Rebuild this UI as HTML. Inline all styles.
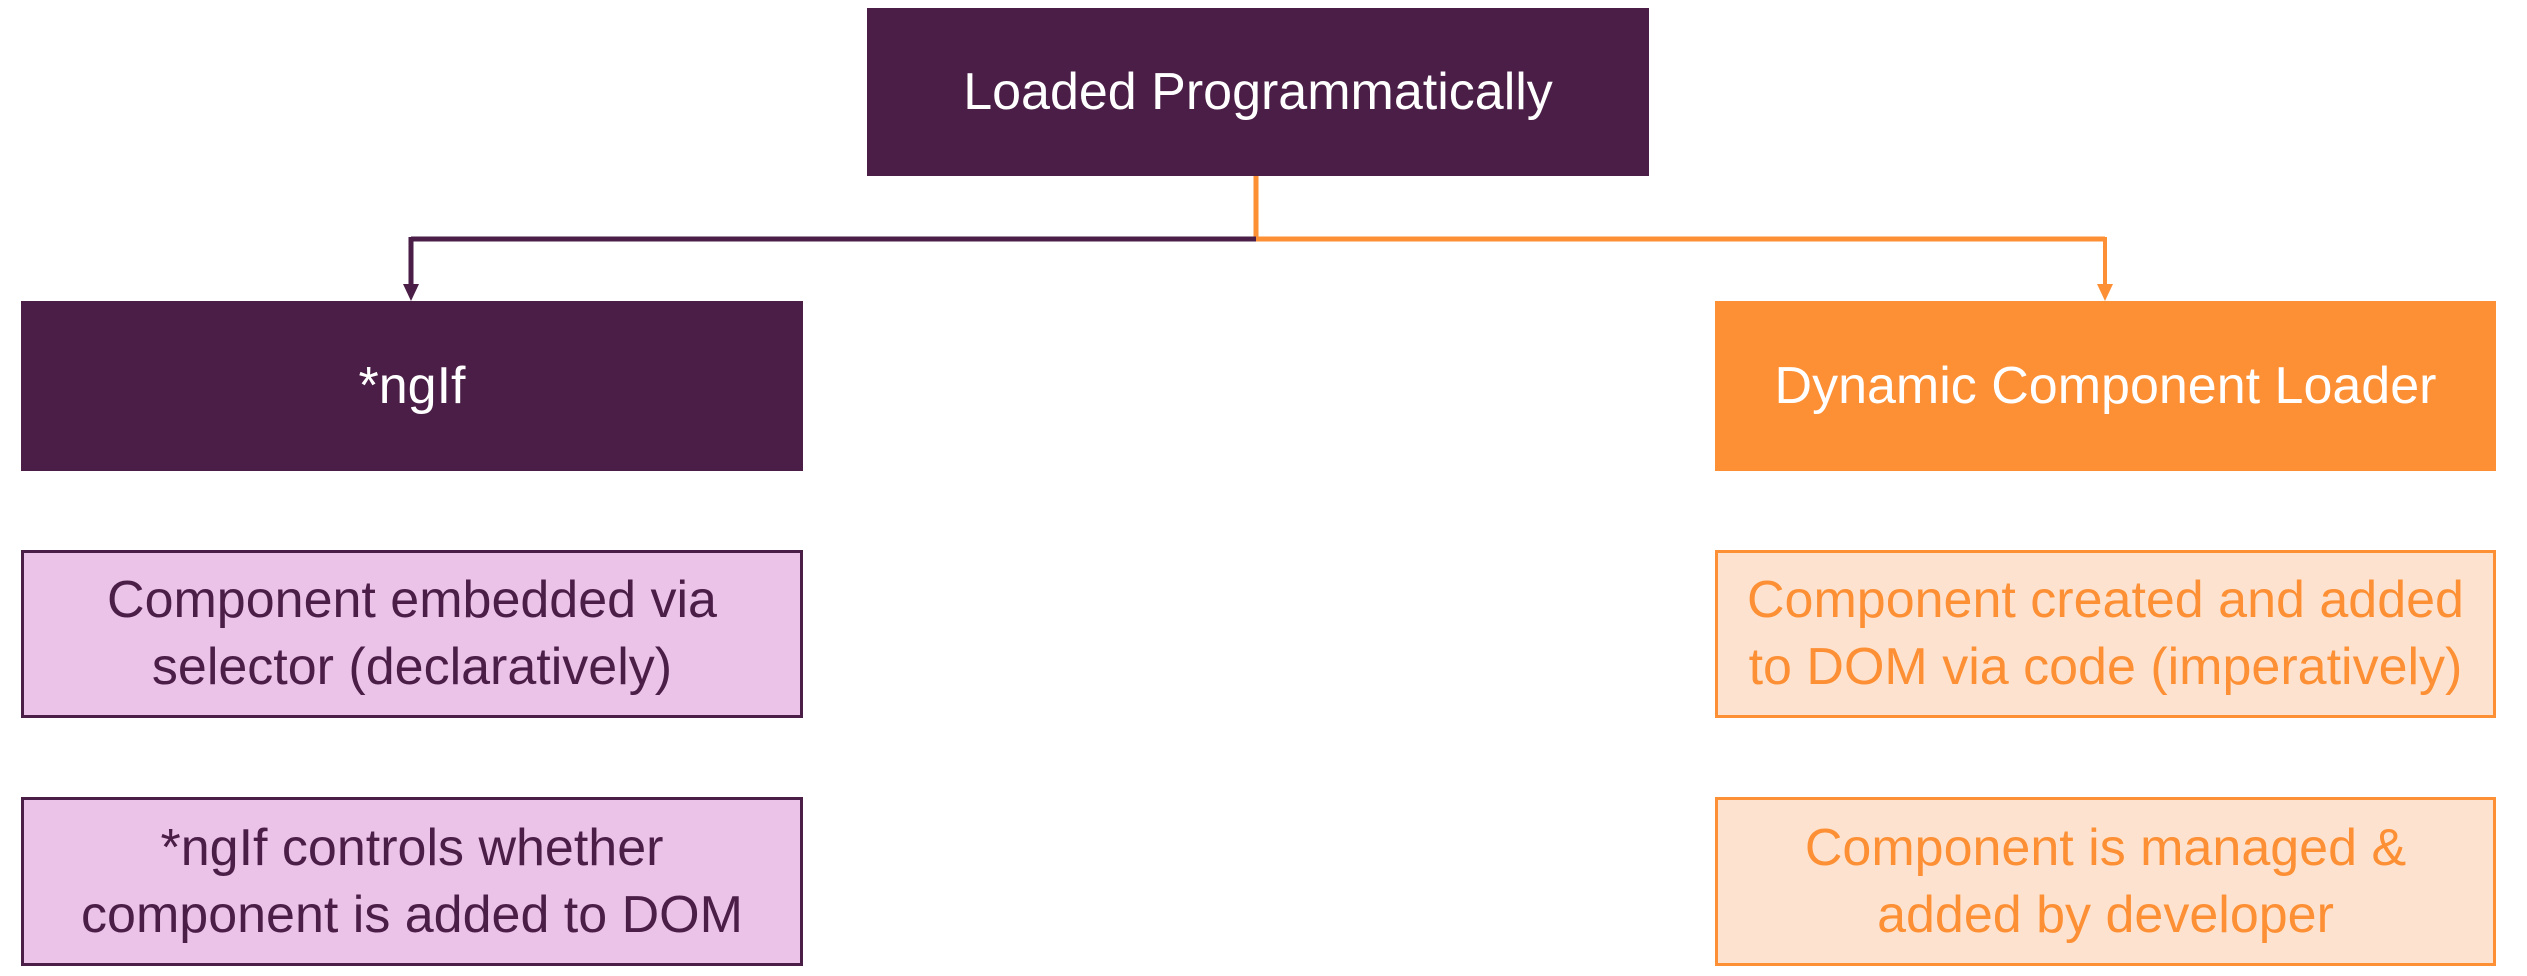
<!DOCTYPE html>
<html><head><style>
html,body{margin:0;padding:0;background:#fff;width:2527px;height:976px;overflow:hidden;position:relative;font-family:"Liberation Sans",sans-serif}
.b{position:absolute;box-sizing:border-box;display:flex;align-items:center;justify-content:center;text-align:center;font-size:52px;line-height:67px}
.dk{background:#4a1e47;color:#fff}
.or{background:#fd8f35;color:#fff}
.pk{background:#ebc2e8;border:3px solid #4a1e47;color:#4a1e47}
.lo{background:#fde3cf;border:3px solid #fd8f35;color:#fd8f35}
</style></head><body>
<svg width="2527" height="976" style="position:absolute;left:0;top:0">
<line x1="1256" y1="176" x2="1256" y2="241" stroke="#fd8f35" stroke-width="5"/>
<line x1="1256" y1="239" x2="2105" y2="239" stroke="#fd8f35" stroke-width="5"/>
<line x1="411" y1="239" x2="1256" y2="239" stroke="#4a1e47" stroke-width="5"/>
<line x1="411" y1="237" x2="411" y2="288" stroke="#4a1e47" stroke-width="5"/>
<line x1="2105" y1="237" x2="2105" y2="288" stroke="#fd8f35" stroke-width="4"/>
<polygon points="403,284 419,284 411,301" fill="#4a1e47"/>
<polygon points="2097,284 2113,284 2105,301" fill="#fd8f35"/>
</svg>
<div class="b dk" style="left:867px;top:8px;width:782px;height:168px">Loaded Programmatically</div>
<div class="b dk" style="left:21px;top:301px;width:782px;height:170px">*ngIf</div>
<div class="b or" style="left:1715px;top:301px;width:781px;height:170px">Dynamic Component Loader</div>
<div class="b pk" style="left:21px;top:550px;width:782px;height:168px">Component embedded via<br>selector (declaratively)</div>
<div class="b lo" style="left:1715px;top:550px;width:781px;height:168px">Component created and added<br>to DOM via code (imperatively)</div>
<div class="b pk" style="left:21px;top:797px;width:782px;height:169px">*ngIf controls whether<br>component is added to DOM</div>
<div class="b lo" style="left:1715px;top:797px;width:781px;height:169px">Component is managed &amp;<br>added by developer</div>
</body></html>
